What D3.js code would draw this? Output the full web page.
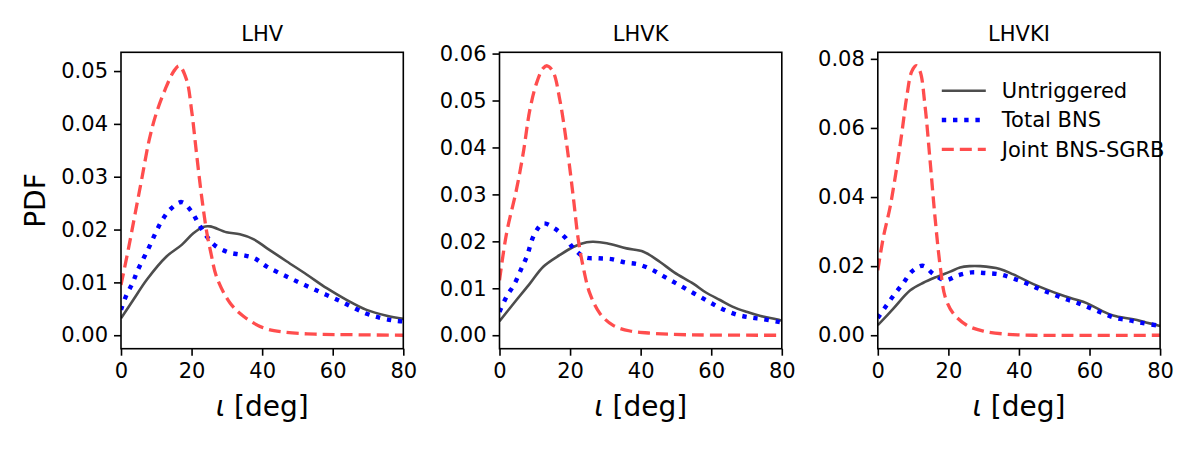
<!DOCTYPE html>
<html>
<head>
<meta charset="utf-8">
<script src="https://cdn.jsdelivr.net/npm/d3@7"></script>
<style>
  body { margin: 0; background: #fff; }
  svg { display: block; font-family: "DejaVu Sans", sans-serif; }
</style>
</head>
<body>
<div id="chart"></div>
<script>
// panel titles and series names
const panelNames = ["LHV", "LHVK", "LHVKI"];
const seriesNames = ["Untriggered", "Total BNS", "Joint BNS-SGRB"];
const xTicks = [0, 20, 40, 60, 80];
const yTicks = [
  [0, 0.01, 0.02, 0.03, 0.04, 0.05],
  [0, 0.01, 0.02, 0.03, 0.04, 0.05, 0.06],
  [0, 0.02, 0.04, 0.06, 0.08]
];

// LHV  [inclination deg, pdf]
const lhvUntriggered = [[0,0.0032],[3.5,0.0067],[7.3,0.0105],[12.9,0.0149],[17.2,0.0171],[20.5,0.0193],[23.3,0.0205],[25.2,0.0206],[29.9,0.0195],[33.7,0.0191],[37.5,0.0182],[41.3,0.0165],[46.9,0.014],[52.6,0.0115],[58.3,0.0089],[63.9,0.0067],[69.6,0.0048],[75.3,0.0037],[80,0.0031]];
const lhvTotal = [[0,0.0048],[1.6,0.0077],[3.3,0.0099],[4.6,0.0121],[6.5,0.0147],[8.2,0.017],[9.9,0.0195],[11.7,0.0218],[14.1,0.0239],[17.2,0.0252],[20,0.0234],[21.9,0.0212],[24.3,0.0187],[26.6,0.017],[30.4,0.0157],[34.2,0.0152],[37.7,0.0146],[41.3,0.013],[47.9,0.0108],[55,0.0086],[62.3,0.0064],[69.1,0.0042],[73.4,0.0033],[77.1,0.0028],[80,0.0026]];
const lhvJoint = [[0,0.0095],[2,0.016],[4,0.023],[6,0.03],[8,0.037],[10,0.042],[12.5,0.0465],[15,0.05],[16.5,0.051],[18.6,0.0483],[20,0.0426],[21.4,0.0344],[22.8,0.0265],[24.3,0.0195],[25.5,0.0155],[27.1,0.011],[30.9,0.0061],[34.7,0.0036],[40.3,0.0014],[46,0.0006],[55,0.0002],[65,0.0001],[80,0]];

// LHVK
const lhvkUntriggered = [[0,0.003],[4.8,0.0075],[8.6,0.011],[12.4,0.0146],[17.1,0.0171],[20.9,0.0188],[24.7,0.0198],[26.6,0.0199],[30.4,0.0196],[36,0.0185],[40.8,0.0178],[45.5,0.0156],[49.5,0.0134],[54.9,0.011],[58.5,0.0091],[62.5,0.0075],[66,0.0061],[70,0.005],[74,0.0041],[78.5,0.0034],[80,0.0031]];
const lhvkTotal = [[0,0.005],[2,0.0082],[4.3,0.011],[6.2,0.0142],[7.7,0.0167],[10,0.0217],[12.4,0.0238],[15.7,0.0227],[18.6,0.0208],[21,0.0185],[24.2,0.0166],[28,0.0164],[31.8,0.0162],[35.6,0.0155],[39.3,0.0151],[43.1,0.014],[46.4,0.0126],[49.7,0.0112],[53,0.0098],[56.8,0.0082],[60.1,0.0068],[63.4,0.0055],[67.2,0.0044],[71,0.0038],[74.8,0.0034],[80,0.0027]];
const lhvkJoint = [[0,0.0117],[2,0.0217],[4.8,0.031],[6.7,0.0387],[8.6,0.048],[10.5,0.0537],[12.4,0.0569],[13.5,0.0574],[15.2,0.0561],[17.1,0.0501],[19,0.0409],[20.9,0.0295],[22.3,0.0205],[23.7,0.0146],[25.6,0.0089],[28.5,0.0046],[32.2,0.0021],[37,0.0009],[43.6,0.0004],[53,0.0001],[80,0]];

// LHVKI
const lhvkiUntriggered = [[0,0.0029],[4.4,0.0077],[9.2,0.013],[12.9,0.0152],[16.7,0.0169],[20.5,0.0184],[23.3,0.0196],[26,0.02],[29,0.02],[34.6,0.0192],[38.4,0.0176],[44.1,0.0148],[51.6,0.0118],[55.5,0.0105],[59.2,0.0093],[63,0.0073],[66.7,0.0057],[72.4,0.0046],[76,0.0037],[80,0.0027]];
const lhvkiTotal = [[0,0.005],[2.5,0.0087],[4.9,0.0121],[7.3,0.0152],[9.6,0.0184],[12.7,0.0201],[15.8,0.0177],[19.1,0.0159],[22.4,0.0172],[26.6,0.0182],[30.4,0.018],[34.6,0.0176],[38.4,0.0164],[42.2,0.015],[45.5,0.0135],[49,0.0121],[52.8,0.0106],[56.4,0.0094],[60.1,0.0079],[63.9,0.0063],[67.3,0.005],[71.3,0.0043],[74.8,0.0036],[80,0.0027]];
const lhvkiJoint = [[0,0.0188],[1.6,0.0285],[3.5,0.0372],[5.4,0.0488],[6.8,0.0585],[8.2,0.069],[9.6,0.0763],[10.9,0.078],[12,0.0763],[13.4,0.0662],[14.8,0.0507],[16.2,0.0343],[17.7,0.0198],[19.1,0.0111],[21.4,0.0063],[25.2,0.0029],[29.9,0.0012],[36.5,0.0003],[44,0],[80,0]];

const panelSeries = [
  [lhvUntriggered, lhvTotal, lhvJoint],
  [lhvkUntriggered, lhvkTotal, lhvkJoint],
  [lhvkiUntriggered, lhvkiTotal, lhvkiJoint]
];

const width = 1200, height = 450;
const panelLeft = [121, 499.5, 877.8];
const panelW = 282.3;
const plotTop = 52.3, plotBottom = 348.7;
const smallFont = "21px", bigFont = "28px";

const styles = [
  { stroke: "#4d4d4d", width: 2.6, dash: null },
  { stroke: "#0000ff", width: 4.4, dash: "4.4,6.8" },
  { stroke: "#ff4d4d", width: 3.3, dash: "12,6" }
];

const svg = d3.select("#chart").append("svg")
  .attr("width", width)
  .attr("height", height);

panelNames.forEach((name, i) => {
  const left = panelLeft[i];
  const right = left + panelW;
  const yMax = d3.max(panelSeries[i], s => d3.max(s, d => d[1]));
  const pad = yMax * 0.05;

  const x = d3.scaleLinear().domain([0, 80]).range([left, right]);
  const y = d3.scaleLinear().domain([-pad, yMax + pad]).range([plotBottom, plotTop]);

  const g = svg.append("g");

  svg.append("clipPath")
    .attr("id", "clip" + i)
    .append("rect")
    .attr("x", left).attr("y", plotTop)
    .attr("width", panelW).attr("height", plotBottom - plotTop);

  const line = d3.line()
    .x(d => x(d[0]))
    .y(d => y(d[1]))
    .curve(d3.curveCatmullRom.alpha(0.5));

  panelSeries[i].forEach((s, k) => {
    g.append("path")
      .datum(s)
      .attr("clip-path", `url(#clip${i})`)
      .attr("fill", "none")
      .attr("stroke", styles[k].stroke)
      .attr("stroke-width", styles[k].width)
      .attr("stroke-dasharray", styles[k].dash)
      .attr("d", line);
  });

  // axes
  const xAxis = g.append("g")
    .attr("transform", `translate(0,${plotBottom})`)
    .call(d3.axisBottom(x).tickValues(xTicks).tickSize(7).tickPadding(6).tickFormat(d3.format("d")));
  const yAxis = g.append("g")
    .attr("transform", `translate(${left},0)`)
    .call(d3.axisLeft(y).tickValues(yTicks[i]).tickSize(7).tickPadding(6).tickFormat(d3.format(".2f")));

  [xAxis, yAxis].forEach(a => {
    a.select(".domain").remove();
    a.selectAll("line").attr("stroke", "#000").attr("stroke-width", 1.6);
    a.selectAll("text")
      .attr("fill", "#000")
      .attr("font-size", smallFont)
      .attr("font-family", "DejaVu Sans, sans-serif");
  });
  xAxis.selectAll("text").attr("dy", "0.8em");

  // frame
  g.append("rect")
    .attr("x", left).attr("y", plotTop)
    .attr("width", panelW).attr("height", plotBottom - plotTop)
    .attr("fill", "none")
    .attr("stroke", "#000")
    .attr("stroke-width", 1.6);

  // title
  g.append("text")
    .attr("x", left + panelW / 2)
    .attr("y", 41)
    .attr("text-anchor", "middle")
    .attr("font-size", smallFont)
    .text(name);

  // x label
  const xl = g.append("text")
    .attr("x", left + panelW / 2)
    .attr("y", 416)
    .attr("text-anchor", "middle")
    .attr("font-size", bigFont);
  xl.append("tspan").attr("font-style", "italic").text("ι");
  xl.append("tspan").text(" [deg]");
});

// y label
svg.append("text")
  .attr("transform", `translate(45,${(plotTop + plotBottom) / 2}) rotate(-90)`)
  .attr("text-anchor", "middle")
  .attr("font-size", bigFont)
  .text("PDF");

// legend in last panel
const legend = svg.append("g")
  .attr("transform", `translate(${panelLeft[2]},0)`);

seriesNames.forEach((name, k) => {
  const ly = 90.7 + k * 29.3;
  legend.append("line")
    .attr("x1", 64).attr("x2", 108)
    .attr("y1", ly).attr("y2", ly)
    .attr("stroke", styles[k].stroke)
    .attr("stroke-width", styles[k].width)
    .attr("stroke-dasharray", styles[k].dash);
  legend.append("text")
    .attr("x", 124)
    .attr("y", ly)
    .attr("dy", "0.35em")
    .attr("font-size", smallFont)
    .text(name);
});
</script>
</body>
</html>
